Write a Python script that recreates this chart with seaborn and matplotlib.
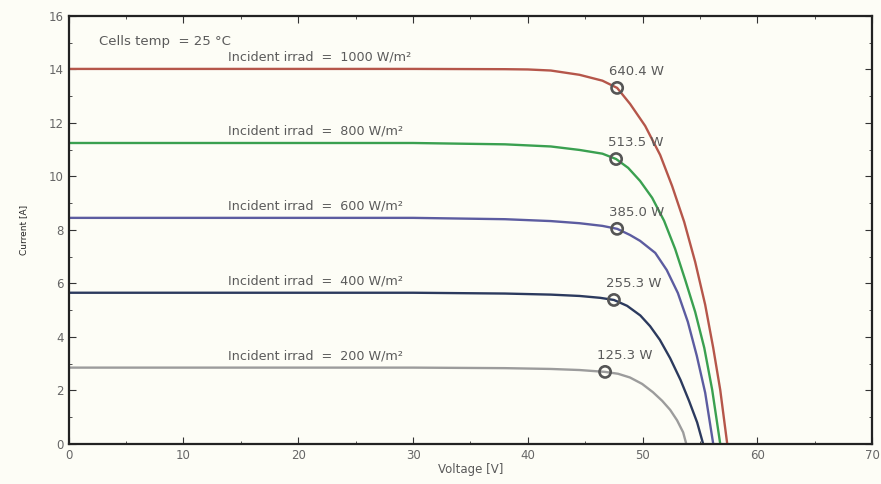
import numpy as np
import pandas as pd
import matplotlib
matplotlib.use('Agg')
import matplotlib.pyplot as plt
import seaborn as sns
from matplotlib.ticker import MultipleLocator

sns.set_style('ticks')
plt.rcParams['font.family'] = ['DejaVu Sans']

# I-V curves (voltage [V], current [A])
v_1000 = [0, 30, 38, 40, 42, 44.5, 46.5, 47.78, 48.91, 50.22, 51.53, 52.57, 53.62, 54.58, 55.45, 56.15, 56.76, 57.37]
i_1000 = [14.02, 14.02, 14.01, 14.0, 13.96, 13.8, 13.58, 13.31, 12.71, 11.89, 10.8, 9.64, 8.3, 6.8, 5.2, 3.59, 2.02, 0]

v_800 = [0, 30, 38, 42, 44.5, 46.5, 47.69, 48.74, 49.78, 50.83, 51.87, 52.83, 53.71, 54.58, 55.37, 56.06, 56.76]
i_800 = [11.25, 11.25, 11.2, 11.12, 10.99, 10.85, 10.65, 10.32, 9.83, 9.2, 8.34, 7.29, 6.13, 4.93, 3.59, 2.02, 0]

v_600 = [0, 30, 38, 42, 44.5, 46.5, 47.78, 48.9, 49.78, 51.1, 52.1, 53.07, 53.94, 54.72, 55.45, 56.15]
i_600 = [8.45, 8.45, 8.4, 8.33, 8.25, 8.15, 8.04, 7.81, 7.59, 7.14, 6.5, 5.64, 4.56, 3.29, 1.91, 0]

v_400 = [0, 30, 38, 42, 44.5, 46.3, 47.5, 48.65, 49.8, 50.65, 51.5, 52.4, 53.3, 54.05, 54.75, 55.27]
i_400 = [5.65, 5.65, 5.62, 5.58, 5.53, 5.46, 5.38, 5.16, 4.8, 4.4, 3.89, 3.2, 2.39, 1.6, 0.8, 0]

v_200 = [0, 30, 38, 42, 44.5, 46.73, 47.86, 48.9, 49.96, 50.9, 51.7, 52.4, 53.0, 53.53, 53.8]
i_200 = [2.85, 2.85, 2.83, 2.8, 2.76, 2.69, 2.62, 2.48, 2.24, 1.93, 1.61, 1.27, 0.88, 0.43, 0]

irradiance = [1000, 800, 600, 400, 200]
mpp_v = [47.78, 47.69, 47.78, 47.5, 46.73]
mpp_i = [13.31, 10.65, 8.04, 5.38, 2.69]
mpp_label = ['640.4 W', '513.5 W', '385.0 W', '255.3 W', '125.3 W']
isc = [14.02, 11.25, 8.45, 5.65, 2.85]

colors = ['#b5564a', '#3aa050', '#5c5ca0', '#2c3a5e', '#9c9c9c']

curves = [(v_1000, i_1000), (v_800, i_800), (v_600, i_600), (v_400, i_400), (v_200, i_200)]
frames = []
for g, (v, i) in zip(irradiance, curves):
    frames.append(pd.DataFrame({'V': v, 'I': i, 'G': g}))
df = pd.concat(frames, ignore_index=True)

fig = plt.figure(figsize=(8.81, 4.84), dpi=100)
fig.patch.set_facecolor('#fdfdf6')
ax = fig.add_axes([0.078, 0.083, 0.912, 0.884])
ax.set_facecolor('#fdfdf6')

sns.lineplot(data=df, x='V', y='I', hue='G', palette=dict(zip(irradiance, colors)),
             hue_order=irradiance, sort=False, estimator=None, linewidth=1.7,
             legend=False, ax=ax)

ax.scatter(mpp_v, mpp_i, s=65, facecolors='none', edgecolors='#555555', linewidths=1.9, zorder=5)

txt_col = '#5a5a5a'
for g, vi, ii, lab, ic in zip(irradiance, mpp_v, mpp_i, mpp_label, isc):
    ax.text(vi - 0.7, ii + 0.6, lab, fontsize=9.5, color=txt_col, ha='left', va='center')
    ax.text(13.9, ic + 0.45, f'Incident irrad  =  {g} W/m²', fontsize=9.2, color=txt_col,
            ha='left', va='center')

ax.text(2.6, 15.05, "Cells temp  = 25 °C", fontsize=9.5, color=txt_col, ha='left', va='center')

ax.set_xlim(0, 70)
ax.set_ylim(0, 16)
ax.xaxis.set_major_locator(MultipleLocator(10))
ax.yaxis.set_major_locator(MultipleLocator(2))
ax.xaxis.set_minor_locator(MultipleLocator(5))
ax.yaxis.set_minor_locator(MultipleLocator(1))
ax.tick_params(which='both', direction='in', top=True, right=True, colors='#333333',
               labelcolor='#666666', labelsize=8.5)
ax.tick_params(which='major', length=5)
ax.tick_params(which='minor', length=2.5)
for s in ax.spines.values():
    s.set_linewidth(1.6)
    s.set_color('#222222')

ax.set_xlabel('Voltage [V]', fontsize=8.5, color=txt_col, labelpad=1)
ax.set_ylabel('Current [A]', fontsize=6.5, color='#222222', labelpad=15)

plt.savefig('out.png', dpi=100, facecolor=fig.get_facecolor())
